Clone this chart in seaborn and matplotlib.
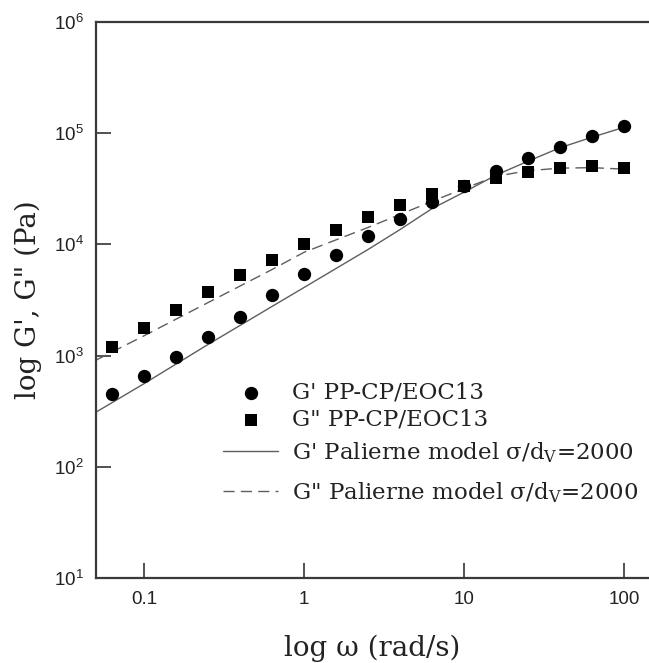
import numpy as np
import pandas as pd
import matplotlib
matplotlib.use("Agg")
import matplotlib.pyplot as plt
import seaborn as sns
from matplotlib.ticker import FixedLocator, FixedFormatter, NullLocator

omega = [0.0631, 0.1, 0.158, 0.251, 0.398, 0.631, 1.0, 1.585, 2.51, 3.98,
         6.31, 10.0, 15.85, 25.1, 39.8, 63.1, 100.0]
g1_exp = [455, 660, 980, 1480, 2240, 3540, 5370, 8000, 11800, 17000,
          24000, 33300, 45700, 60000, 74600, 93600, 115000]
g2_exp = [1200, 1780, 2560, 3700, 5260, 7270, 10000, 13600, 17800, 22800,
          28200, 33300, 39800, 44900, 49000, 50600, 48400]

# ---- Palierne model curves ----
omega_model = [0.05, 0.1, 0.251, 0.631, 1.0, 2.51, 3.98, 6.31, 10.0,
               15.85, 25.1, 39.8, 63.1, 100.0]
g1_model = [310, 560, 1260, 2770, 4100, 9000, 13600, 21000, 29500,
            42000, 56000, 74000, 92000, 113000]
g2_model = [910, 1510, 3000, 5950, 8500, 14200, 18600, 24400, 31800,
            41000, 46000, 48500, 49000, 47500]

labels = ["G' PP-CP/EOC13", 'G" PP-CP/EOC13',
          r"G' Palierne model σ/d$_\mathregular{V}$=2000",
          r'G" Palierne model σ/d$_\mathregular{V}$=2000']

xticks = [0.1, 1, 10, 100]
xticklabels = ["0.1", "1", "10", "100"]
yticks = [1e1, 1e2, 1e3, 1e4, 1e5, 1e6]
yticklabels = [r"$\mathregular{10^{%d}}$" % k for k in range(1, 7)]

exp = pd.DataFrame({"omega": omega, "G1": g1_exp, "G2": g2_exp})
model = pd.DataFrame({"omega": omega_model, "G1": g1_model, "G2": g2_model})

sns.set_theme(style="white")
plt.rcParams["font.family"] = ["Liberation Sans", "DejaVu Sans"]

fig = plt.figure(figsize=(6.49, 6.63), dpi=100)
ax = fig.add_axes([96 / 649, 1 - 578 / 663, 553 / 649, 556 / 663])
ax.set_xscale("log")
ax.set_yscale("log")

line_col = "#5e5e5e"
sns.lineplot(data=model, x="omega", y="G1", ax=ax, color=line_col, lw=1.0,
             label=labels[2], legend=False)
sns.lineplot(data=model, x="omega", y="G2", ax=ax, color=line_col, lw=1.0,
             label=labels[3], legend=False)
ax.lines[-1].set_dashes((8, 4.5))

sns.scatterplot(data=exp, x="omega", y="G1", ax=ax, marker="o", s=92,
                color="black", edgecolor="black", linewidth=0,
                label=labels[0], legend=False, zorder=3)
sns.scatterplot(data=exp, x="omega", y="G2", ax=ax, marker="s", s=75,
                color="black", edgecolor="black", linewidth=0,
                label=labels[1], legend=False, zorder=3)

ax.set_xlim(0.05, 143.3)
ax.set_ylim(10, 1e6)

ax.xaxis.set_major_locator(FixedLocator(xticks))
ax.xaxis.set_major_formatter(FixedFormatter(xticklabels))
ax.yaxis.set_major_locator(FixedLocator(yticks))
ax.yaxis.set_major_formatter(FixedFormatter(yticklabels))
ax.xaxis.set_minor_locator(NullLocator())
ax.yaxis.set_minor_locator(NullLocator())
ax.tick_params(axis="both", which="major", direction="in", length=11,
               width=1.2, color="#333333", labelsize=13.5, pad=9,
               labelcolor="#222222")
ax.tick_params(left=True, bottom=True, top=False, right=False)

for side in ["left", "bottom", "top"]:
    ax.spines[side].set_visible(True)
    ax.spines[side].set_color("#3a3a3a")
    ax.spines[side].set_linewidth(1.6)
ax.spines["right"].set_visible(False)

ax.set_xlabel("log ω (rad/s)", family="DejaVu Serif", fontsize=20,
              color="#222222")
ax.set_ylabel("log G', G\" (Pa)", family="DejaVu Serif", fontsize=20,
              color="#222222")
ax.xaxis.set_label_coords(0.5, (578 - 648) / 556)
ax.xaxis.label.set_va("center")
ax.yaxis.set_label_coords((28 - 96) / 553, 0.5)
ax.yaxis.label.set_va("center")

# legend in two blocks: markers tight, model lines spaced wider
handles, labs = ax.get_legend_handles_labels()
h = {l: hd for hd, l in zip(handles, labs)}
leg_kw = dict(loc="upper left", bbox_transform=fig.transFigure, frameon=False,
              prop={"family": "DejaVu Serif", "size": 16.5},
              handlelength=2.4, handletextpad=0.6,
              borderpad=0, borderaxespad=0)
leg1 = ax.legend([h[l] for l in labels[:2]], labels[:2],
                 bbox_to_anchor=(223 / 649, 1 - 382 / 663),
                 labelspacing=0.2, **leg_kw)
ax.add_artist(leg1)
leg2 = ax.legend([h[l] for l in labels[2:]], labels[2:],
                 bbox_to_anchor=(223 / 649, 1 - 440 / 663),
                 labelspacing=0.65, **leg_kw)
for lg in (leg1, leg2):
    for t in lg.get_texts():
        t.set_color("#222222")

fig.savefig("out.png", dpi=100, facecolor="white")
